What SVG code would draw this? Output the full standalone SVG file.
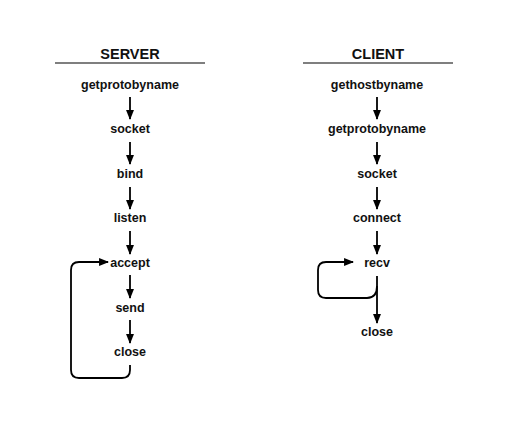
<svg xmlns="http://www.w3.org/2000/svg" width="509" height="430" viewBox="0 0 509 430">
<defs>
<marker id="ah" viewBox="0 0 10 8" refX="9" refY="4" markerWidth="5.5" markerHeight="4.4" orient="auto" markerUnits="strokeWidth">
<path d="M0,0 L10,4 L0,8 z" fill="#000"/>
</marker>
</defs>
<style>
.t{font-family:"Liberation Sans",Arial,sans-serif;font-weight:bold;font-size:12.5px;fill:#111;text-anchor:middle}
.h{font-family:"Liberation Sans",Arial,sans-serif;font-weight:bold;font-size:14.5px;fill:#111;text-anchor:middle}
.c{fill:none;stroke:#000;stroke-width:1.8;marker-end:url(#ah)}
.r{stroke:#000;stroke-width:1.2}
</style>
<rect width="509" height="430" fill="#fff"/>
<g id="server-title"><text class="h" x="130" y="59">SERVER</text><line class="r" x1="55" y1="63" x2="205" y2="63"/></g>
<g id="client-title"><text class="h" x="378" y="59">CLIENT</text><line class="r" x1="303" y1="63" x2="453" y2="63"/></g>
<g id="s-getprotobyname"><text class="t" x="130" y="89">getprotobyname</text></g>
<g id="s-socket"><text class="t" x="130" y="133">socket</text></g>
<g id="s-bind"><text class="t" x="130" y="178">bind</text></g>
<g id="s-listen"><text class="t" x="130" y="222">listen</text></g>
<g id="s-accept"><text class="t" x="130" y="267">accept</text></g>
<g id="s-send"><text class="t" x="130" y="312">send</text></g>
<g id="s-close"><text class="t" x="130" y="356">close</text></g>
<g id="c-gethostbyname"><text class="t" x="377" y="89">gethostbyname</text></g>
<g id="c-getprotobyname"><text class="t" x="377" y="133">getprotobyname</text></g>
<g id="c-socket"><text class="t" x="377" y="178">socket</text></g>
<g id="c-connect"><text class="t" x="377" y="222">connect</text></g>
<g id="c-recv"><text class="t" x="377" y="267">recv</text></g>
<g id="c-close"><text class="t" x="377" y="336">close</text></g>
<g id="connectors">
<line class="c" x1="130" y1="97" x2="130" y2="119"/>
<line class="c" x1="130" y1="142" x2="130" y2="164"/>
<line class="c" x1="130" y1="187" x2="130" y2="209"/>
<line class="c" x1="130" y1="231" x2="130" y2="254"/>
<line class="c" x1="130" y1="275" x2="130" y2="298"/>
<line class="c" x1="130" y1="320" x2="130" y2="343"/>
<path class="c" d="M130,365 L130,370 Q130,378 122,378 L79,378 Q71,378 71,370 L71,270 Q71,262 79,262 L108,262"/>
<line class="c" x1="377" y1="97" x2="377" y2="119"/>
<line class="c" x1="377" y1="142" x2="377" y2="164"/>
<line class="c" x1="377" y1="187" x2="377" y2="209"/>
<line class="c" x1="377" y1="231" x2="377" y2="254"/>
<line class="c" x1="377" y1="276" x2="377" y2="323"/>
<path class="c" d="M377,286 Q377,298 367,298 L326,298 Q318,298 318,290 L318,270 Q318,262 326,262 L353,262"/>
</g>
</svg>
